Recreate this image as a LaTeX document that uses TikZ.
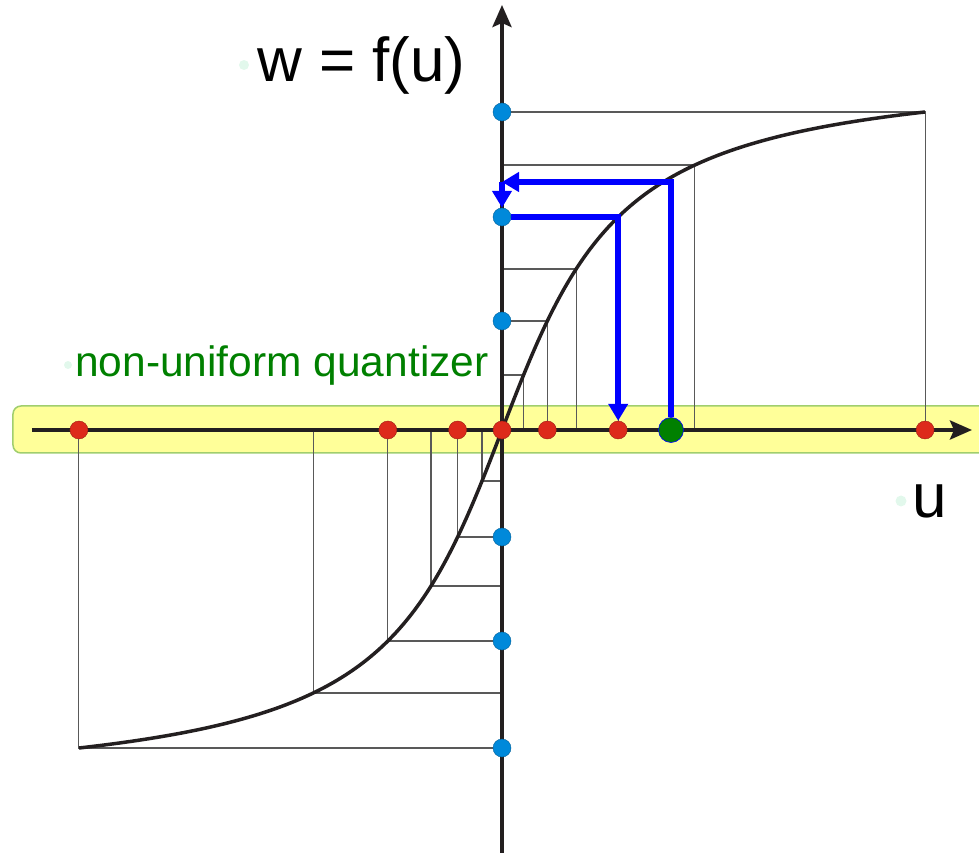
\documentclass[tikz,border=0pt]{standalone}
\usepackage{fontspec}
\setmainfont{Liberation Sans}
\usetikzlibrary{arrows.meta,backgrounds}

\definecolor{dotblue}{RGB}{0,137,218}
\definecolor{dotred}{RGB}{221,42,27}
\definecolor{bandfill}{RGB}{255,255,153}
\definecolor{banddraw}{RGB}{160,206,110}
\definecolor{axisblack}{RGB}{35,31,32}
\definecolor{tagdot}{RGB}{226,248,236}

\tikzset{
  bdot/.style={circle, fill=dotblue, draw=dotblue!70!black, line width=0.4pt,
               minimum size=18pt, inner sep=0},
  rdot/.style={circle, fill=dotred, draw=dotred!70!black, line width=0.4pt,
               minimum size=18pt, inner sep=0},
  level line/.style={black!65, line width=1.1pt},
  q arrow/.style={-{Triangle[length=17pt,width=19pt]}, blue, line width=6pt},
}

\begin{document}
\begin{tikzpicture}[x=1pt, y=1pt,
      axis/.style={axisblack, line width=4pt, -{Stealth[length=22pt,width=19pt,inset=4pt]}},
      curve/.style={axisblack, line width=3.5pt},
      lbl/.style={anchor=base west, inner sep=0},
    ]
    \useasboundingbox (-502,-423) rectangle (477,430);
    \def\kk{4.7}   % steepness of the compressor
    \def\umax{423} % input range
    \def\wmax{318} % output range

    % Output levels (blue) and the matching input levels (red)
    \foreach \i/\w/\t in {1/109/55, 2/213/161, 3/318/265} {
      \pgfmathsetmacro{\ux}{\umax/\kk*tan(\w/\wmax*atan(\kk))}
      \pgfmathsetmacro{\tx}{\umax/\kk*tan(\t/\wmax*atan(\kk))}
      \node[bdot] (bp\i) at (0,\w) {};
      \node[rdot] (rp\i) at (\ux,0) {};
      \coordinate (tp\i) at (0,\t);
      \coordinate (tq\i) at (\tx,0);
    }
    \foreach \i/\w/\t in {1/107/51, 2/211/156, 3/318/263} {
      \pgfmathsetmacro{\ux}{-\umax/\kk*tan(\w/\wmax*atan(\kk))}
      \pgfmathsetmacro{\tx}{-\umax/\kk*tan(\t/\wmax*atan(\kk))}
      \node[bdot] (bn\i) at (0,-\w) {};
      \node[rdot] (rn\i) at (\ux,0) {};
      \coordinate (tn\i) at (0,-\t);
      \coordinate (tm\i) at (\tx,0);
    }
    \node[rdot] (r0) at (0,0) {};
    \node[circle, fill=green!50!black, draw=blue, line width=0.6pt,
          minimum size=25pt, inner sep=0] (g) at (169,0) {};

    % Labels
    \fill[tagdot] (-258,365) circle (5);
    \node[lbl, font=\fontsize{62}{74}\selectfont] (wlabel) at (-245,348) {w = f(u)};
    \fill[tagdot] (-434,65) circle (4);
    \node[lbl, text=green!50!black, font=\fontsize{42.5}{50}\selectfont] (qlabel)
         at (-427,53) {non-uniform quantizer};
    \fill[tagdot] (399,-71) circle (5.5);
    \node[lbl, font=\fontsize{62}{74}\selectfont] (ulabel) at (410,-88) {u};

    \coordinate (xl) at (-470,0);
    \coordinate (xr) at (470,0);
    \coordinate (yb) at (0,-425);
    \coordinate (yt) at (0,425);
    \coordinate (ga) at (0,248);

    \begin{scope}[on background layer]
      % quantizer band
      \draw[fill=bandfill, draw=banddraw, line width=1.5pt, rounded corners=8pt]
           (-489,-23) rectangle (490,24);

      % staircase of levels and thresholds
      \foreach \i in {1,2,3} {
        \draw[level line] (bp\i) -| (rp\i);
        \draw[level line] (tp\i) -| (tq\i);
        \draw[level line] (bn\i) -| (rn\i);
        \draw[level line] (tn\i) -| (tm\i);
      }

      % compressor curve
      \draw[curve] plot[domain=-423:423, samples=160, smooth]
           (\x, {\wmax*(atan(\kk*\x/\umax)/atan(\kk))});

      % axes
      \draw[axis] (xl) -- (xr);
      \draw[axis] (yb) -- (yt);

      % quantizing one sample
      \draw[q arrow] (g) |- (ga);
      \draw[q arrow] (ga) -- (bp2);
      \draw[q arrow] (bp2) -| (rp2);
    \end{scope}
  \end{tikzpicture}
\end{document}
